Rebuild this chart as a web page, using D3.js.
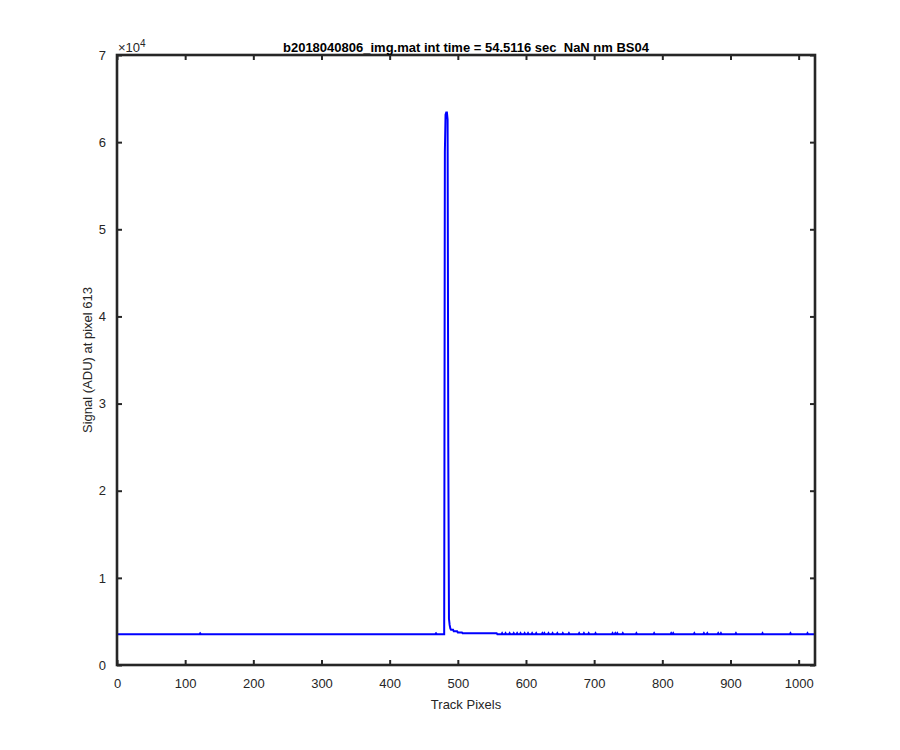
<!DOCTYPE html>
<html lang="en">
<head>
    <meta charset="UTF-8">
    <title>Track signal</title>
    <script src="https://d3js.org/d3.v7.min.js"></script>
    <style>
        body { margin: 0; background: #fff; }
        svg text { font-family: "Liberation Sans", Arial, Helvetica, sans-serif; fill: #262626; }
    </style>
</head>
<body>
    <svg id="chart" width="900" height="750"></svg>

    <script>
        // Data (track pixel vs signal in ADU)
        const trackPixel = [
            0, 121, 122, 123, 467, 468, 469, 480,
            481, 482, 483, 484, 485, 486, 487, 488, 489, 490,
            493, 494, 499, 500, 506, 507, 557, 558,
            564, 565, 566, 569, 570, 571, 575, 576, 577, 581, 582, 583,
            586, 587, 588, 591, 592, 593, 597, 598, 599, 602, 603, 604,
            608, 609, 610, 614, 615, 616, 623, 624, 625, 626, 627, 628,
            632, 633, 634, 638, 639, 640, 645, 646, 647, 653, 654, 655,
            662, 663, 664, 677, 678, 679, 684, 685, 686, 691, 692, 693,
            701, 702, 703, 726, 727, 728, 730, 731, 732, 733, 734, 735,
            741, 742, 743, 761, 762, 763, 787, 788, 789, 812, 813, 814,
            815, 816, 817, 846, 847, 848, 860, 861, 862, 865, 866, 867,
            881, 882, 883, 885, 886, 887, 907, 908, 909, 946, 947, 948,
            987, 988, 989, 1012, 1013, 1014, 1024
        ];
        const signal = [
            3530, 3530, 3630, 3530, 3530, 3630, 3530, 3530,
            58900, 63150, 63400, 63400, 62600, 25050, 5300, 4600, 4200, 4050,
            4050, 3860, 3860, 3740, 3740, 3640, 3640, 3530,
            3530, 3650, 3530, 3530, 3650, 3530, 3530, 3650, 3530, 3530, 3650, 3530,
            3530, 3650, 3530, 3530, 3650, 3530, 3530, 3650, 3530, 3530, 3650, 3530,
            3530, 3650, 3530, 3530, 3650, 3530, 3530, 3650, 3530, 3530, 3650, 3530,
            3530, 3650, 3530, 3530, 3650, 3530, 3530, 3650, 3530, 3530, 3650, 3530,
            3530, 3650, 3530, 3530, 3650, 3530, 3530, 3650, 3530, 3530, 3650, 3530,
            3530, 3650, 3530, 3530, 3650, 3530, 3530, 3650, 3530, 3530, 3650, 3530,
            3530, 3650, 3530, 3530, 3650, 3530, 3530, 3650, 3530, 3530, 3650, 3530,
            3530, 3650, 3530, 3530, 3650, 3530, 3530, 3650, 3530, 3530, 3650, 3530,
            3530, 3650, 3530, 3530, 3650, 3530, 3530, 3650, 3530, 3530, 3650, 3530,
            3530, 3650, 3530, 3530, 3650, 3530, 3530
        ];

        const xTicks = [0, 100, 200, 300, 400, 500, 600, 700, 800, 900, 1000];
        const yTicks = [0, 10000, 20000, 30000, 40000, 50000, 60000, 70000];

        const titleText = "b2018040806_img.mat int time = 54.5116 sec  NaN nm BS04";
        const xLabel = "Track Pixels";
        const yLabel = "Signal (ADU) at pixel 613";

        const margin = { top: 55, right: 85, bottom: 85, left: 117 };
        const width = 900 - margin.left - margin.right;
        const height = 750 - margin.top - margin.bottom;

        const svg = d3.select("#chart");
        const g = svg.append("g").attr("transform", `translate(${margin.left},${margin.top})`);

        const x = d3.scaleLinear().domain([0, 1024]).range([0, width]);
        const y = d3.scaleLinear().domain([0, 70000]).range([height, 0]);

        g.append("clipPath").attr("id", "clip")
            .append("rect").attr("width", width).attr("height", height);

        // data line
        const points = trackPixel.map((p, i) => [p, signal[i]]);
        g.append("path")
            .datum(points)
            .attr("clip-path", "url(#clip)")
            .attr("fill", "none")
            .attr("stroke", "#0000ff")
            .attr("stroke-width", 2)
            .attr("d", d3.line().x(d => x(d[0])).y(d => y(d[1])));

        // axes, ticks pointing inward on all four sides
        function styleAxis(sel) {
            sel.select(".domain").remove();
            sel.selectAll("line").attr("stroke", "#262626").attr("stroke-width", 2);
            sel.selectAll("text").style("font-size", "13px").attr("fill", "#262626");
        }

        g.append("g").attr("transform", `translate(0,${height})`)
            .call(d3.axisBottom(x).tickValues(xTicks).tickSize(-5).tickPadding(14).tickFormat(d3.format("d")))
            .call(styleAxis);
        g.append("g")
            .call(d3.axisTop(x).tickValues(xTicks).tickSize(-5).tickFormat(""))
            .call(styleAxis);
        g.append("g")
            .call(d3.axisLeft(y).tickValues(yTicks).tickSize(-5).tickPadding(11).tickFormat(d => d / 10000))
            .call(styleAxis);
        g.append("g").attr("transform", `translate(${width},0)`)
            .call(d3.axisRight(y).tickValues(yTicks).tickSize(-5).tickFormat(""))
            .call(styleAxis);

        // box
        g.append("rect")
            .attr("width", width).attr("height", height)
            .attr("fill", "none").attr("stroke", "#262626").attr("stroke-width", 2.6);

        // exponent
        const ex = g.append("text").attr("x", 1).attr("y", -3).style("font-size", "13px");
        ex.append("tspan").text("\u00d710");
        ex.append("tspan").attr("dy", -5).style("font-size", "10px").text("4");

        // title
        svg.append("text")
            .attr("x", margin.left + width / 2).attr("y", 52)
            .attr("text-anchor", "middle")
            .style("font-size", "13px").style("font-weight", "bold").style("fill", "#000")
            .style("white-space", "pre")
            .text(titleText);

        // axis labels
        svg.append("text")
            .attr("x", margin.left + width / 2).attr("y", 709)
            .attr("text-anchor", "middle")
            .style("font-size", "13px")
            .text(xLabel);

        svg.append("text")
            .attr("transform", `translate(92,${margin.top + height / 2}) rotate(-90)`)
            .attr("text-anchor", "middle")
            .style("font-size", "13px")
            .text(yLabel);
    </script>
</body>
</html>
